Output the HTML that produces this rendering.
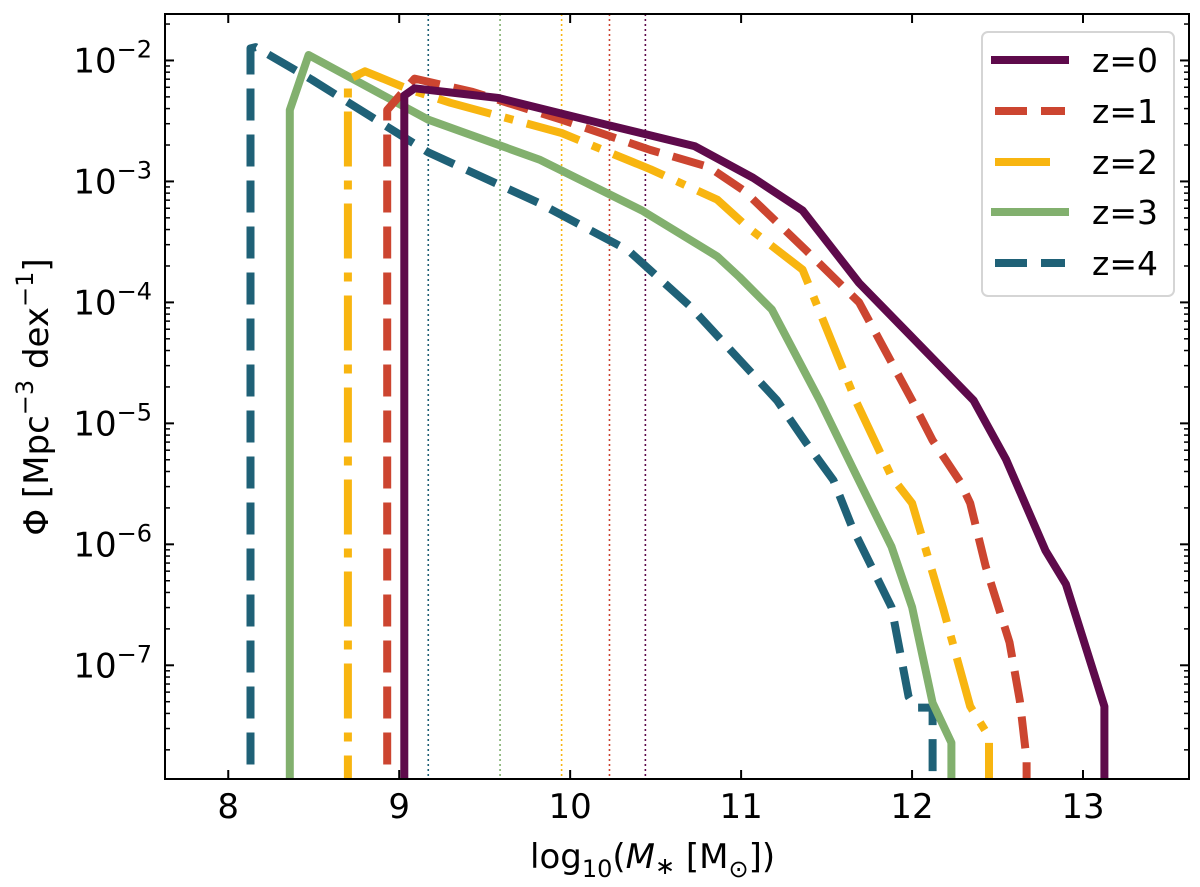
<!DOCTYPE html>
<html><head><meta charset="utf-8"><style>
html,body{margin:0;padding:0;background:#fff;}
svg{display:block;font-family:"DejaVu Sans","Liberation Sans",sans-serif;}
</style></head><body>
<svg id="chart" width="1200" height="887" viewBox="0 0 1200 887">
<g id="marks"></g>
<g id="axes"></g>
</svg>
<script>
const seriesNames = ["z=0","z=1","z=2","z=3","z=4"];
const colors = ["#5e0a4b","#cc4530","#f8b510","#82b06e","#1f6177"];
const dashes = ["", "32 14", "55 14 9 14", "", "32 14"];
const cutoffs = [10.44, 10.23, 9.95, 9.59, 9.17];
// data: [log10 M, log10 Phi]
const z0x = [9.03, 9.03, 9.09, 9.58, 10.21, 10.73, 11.07, 11.36, 11.69, 11.96, 12.36, 12.55, 12.78, 12.90, 13.125, 13.125];
const z0y = [-8.2, -2.29, -2.23, -2.31, -2.53, -2.71, -2.97, -3.24, -3.84, -4.23, -4.81, -5.30, -6.05, -6.33, -7.34, -8.2];
const z1x = [8.93, 8.93, 9.09, 9.43, 9.95, 10.47, 10.81, 11.02, 11.38, 11.69, 12.0, 12.12, 12.28, 12.34, 12.43, 12.51, 12.57, 12.63, 12.67, 12.67];
const z1y = [-8.2, -2.41, -2.15, -2.26, -2.49, -2.74, -2.88, -3.08, -3.57, -4.0, -4.81, -5.14, -5.48, -5.66, -6.18, -6.54, -6.81, -7.29, -7.78, -8.2];
const z2x = [8.70, 8.70, 8.80, 9.06, 9.30, 9.95, 10.47, 10.86, 11.04, 11.36, 11.67, 11.88, 12.0, 12.18, 12.34, 12.45, 12.45];
const z2y = [-8.2, -2.16, -2.09, -2.24, -2.35, -2.60, -2.90, -3.15, -3.38, -3.73, -4.81, -5.44, -5.66, -6.52, -7.34, -7.59, -8.2];
const z3x = [8.36, 8.36, 8.47, 9.17, 9.82, 10.42, 10.86, 10.99, 11.18, 11.46, 11.65, 11.88, 12.0, 12.12, 12.23, 12.23];
const z3y = [-8.2, -2.41, -1.955, -2.49, -2.82, -3.24, -3.62, -3.79, -4.06, -4.81, -5.36, -6.02, -6.52, -7.31, -7.64, -8.2];
const z4x = [8.13, 8.13, 8.16, 8.49, 9.17, 9.82, 10.34, 10.70, 11.21, 11.38, 11.54, 11.65, 11.88, 11.98, 12.02, 12.12, 12.12];
const z4y = [-8.2, -1.90, -1.89, -2.16, -2.76, -3.18, -3.57, -4.03, -4.81, -5.16, -5.47, -5.86, -6.52, -7.26, -7.35, -7.35, -8.2];
const xTicks = [8, 9, 10, 11, 12, 13];
const yTicks = [-2, -3, -4, -5, -6, -7];
const seriesX = [z0x, z1x, z2x, z3x, z4x];
const seriesY = [z0y, z1y, z2y, z3y, z4y];

const L = 165, R = 1189, T = 14, B = 779;
const xMin = 7.63, xMax = 13.62, yMin = -7.94, yMax = -1.616;
const X = v => L + (v - xMin) / (xMax - xMin) * (R - L);
const Y = v => B - (v - yMin) / (yMax - yMin) * (B - T);
const NS = "http://www.w3.org/2000/svg";
function mk(tag, attrs, parent){const e=document.createElementNS(NS,tag);for(const k in attrs)e.setAttribute(k,attrs[k]);parent.appendChild(e);return e;}
const marks = document.getElementById('marks');
const axes = document.getElementById('axes');
const defs = mk('defs',{},document.getElementById('chart'));
const cp = mk('clipPath',{id:'clip'},defs);
mk('rect',{x:L,y:T,width:R-L,height:B-T},cp);
marks.setAttribute('clip-path','url(#clip)');

// cutoff lines
cutoffs.forEach((c,i)=>{
  const l = mk('line',{x1:X(c),x2:X(c),y1:T,y2:B,stroke:colors[i],'stroke-width':1.6,'stroke-dasharray':'2 3'},marks);
  
  
});
// series (draw z4 first so z0 on top)
for(let i=seriesX.length-1;i>=0;i--){
  const pts = seriesX[i].map((x,j)=>X(x).toFixed(1)+','+Y(seriesY[i][j]).toFixed(1)).join(' ');
  const p = mk('polyline',{points:pts,fill:'none',stroke:colors[i],'stroke-width':8,'stroke-linejoin':'round'},marks);
  if(dashes[i]) p.setAttribute('stroke-dasharray',dashes[i]);
  
  
}
// frame
const fr = mk('rect',{x:L,y:T,width:R-L,height:B-T,fill:'none',stroke:'#000','stroke-width':2},axes);


// x ticks
xTicks.forEach(t=>{
  const x=X(t);
  mk('line',{x1:x,x2:x,y1:B,y2:B-9,stroke:'#000','stroke-width':2},axes);
  mk('line',{x1:x,x2:x,y1:T,y2:T+9,stroke:'#000','stroke-width':2},axes);
  const tx = mk('text',{x:x,y:818,'font-size':34,'text-anchor':'middle'},axes);
  tx.textContent = t;
  
  
});
// y ticks
yTicks.forEach(t=>{
  const y=Y(t);
  mk('line',{x1:L,x2:L+9,y1:y,y2:y,stroke:'#000','stroke-width':2},axes);
  mk('line',{x1:R,x2:R-9,y1:y,y2:y,stroke:'#000','stroke-width':2},axes);
  const tx = mk('text',{x:152,y:y+12,'font-size':34,'text-anchor':'end'},axes);
  tx.innerHTML = '10<tspan dy="-15" font-size="24">\u2212'+(-t)+'</tspan>';
  
  
});
// minor y ticks
for(let d=-8; d<=-2; d++){
  for(let m=2;m<=9;m++){
    const v=d+Math.log10(m);
    if(v<yMin||v>yMax) continue;
    const y=Y(v);
    mk('line',{x1:L,x2:L+5,y1:y,y2:y,stroke:'#000','stroke-width':1.5},axes);
    mk('line',{x1:R,x2:R-5,y1:y,y2:y,stroke:'#000','stroke-width':1.5},axes);
  }
}
</script>
<svg width="0" height="0" style="position:absolute"></svg>
<div style="position:absolute;left:0;top:0;width:1200px;height:887px;pointer-events:none">
<svg width="1200" height="887" style="position:absolute;left:0;top:0;font-family:'DejaVu Sans','Liberation Sans',sans-serif">
  <text x="530" y="868" font-size="34">log<tspan font-size="24" dy="9">10</tspan><tspan dy="-9">(</tspan><tspan font-style="italic">M</tspan><tspan font-size="24" dy="6">∗</tspan><tspan dy="-6"> [M</tspan><tspan font-size="24" dy="9">⊙</tspan><tspan dy="-9">])</tspan></text>
  <text transform="translate(48,397) rotate(-90)" font-size="34" text-anchor="middle">Φ [Mpc<tspan font-size="24" dy="-15">−3</tspan><tspan dy="15"> dex</tspan><tspan font-size="24" dy="-15">−1</tspan><tspan dy="15">]</tspan></text>
  <g>
    <rect x="982" y="32" width="192" height="264" rx="6" fill="#fff" fill-opacity="0.85" stroke="#d5d5d5" stroke-width="2"/>
    <line x1="991" x2="1069" y1="60" y2="60" stroke="#5e0a4b" stroke-width="8"/>
    <line x1="995" x2="1065" y1="111" y2="111" stroke="#cc4530" stroke-width="8" stroke-dasharray="32 14"/>
    <line x1="995" x2="1050" y1="162" y2="162" stroke="#f8b510" stroke-width="8"/>
    <line x1="991" x2="1069" y1="212" y2="212" stroke="#82b06e" stroke-width="8"/>
    <line x1="995" x2="1065" y1="263" y2="263" stroke="#1f6177" stroke-width="8" stroke-dasharray="32 14"/>
    <text x="1092" y="72" font-size="33">z=0</text>
    <text x="1092" y="123" font-size="33">z=1</text>
    <text x="1092" y="174" font-size="33">z=2</text>
    <text x="1092" y="224" font-size="33">z=3</text>
    <text x="1092" y="275" font-size="33">z=4</text>
  </g>
</svg>
</div>
</body></html>
